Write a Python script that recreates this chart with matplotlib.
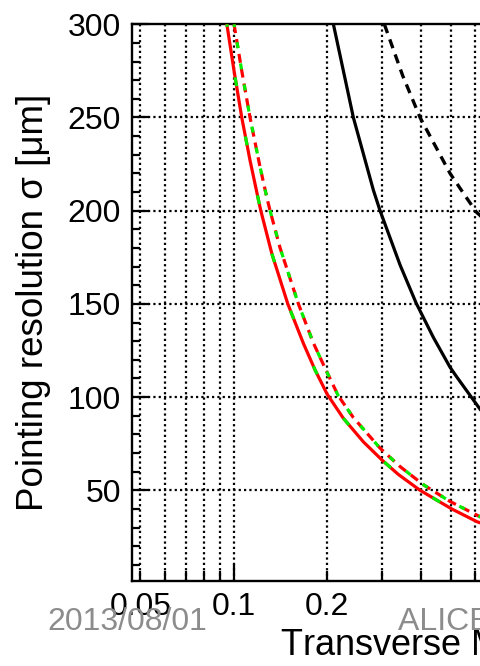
import math
import matplotlib
matplotlib.use("Agg")
import matplotlib.pyplot as plt
from matplotlib.ticker import FixedLocator, FixedFormatter

plt.rcParams['font.family'] = ['Liberation Sans', 'DejaVu Sans']

# Pointing resolution (um) vs transverse momentum (GeV/c)
pt_red = [0.0950, 0.1002, 0.1061, 0.1128, 0.1200, 0.1222, 0.1326, 0.1493,
          0.1676, 0.1827, 0.2000, 0.2255, 0.2615, 0.3000, 0.3390, 0.3982,
          0.5038, 0.6065, 0.70]
sig_red = [300, 275, 250, 227, 206, 200, 177, 150,
           128.8, 114.6, 101.5, 88.6, 76.0, 66.3, 58.5, 50.0,
           40.0, 33.2, 29.5]

pt_red_d = [0.1002, 0.1061, 0.1128, 0.1215, 0.1277, 0.1309, 0.1410, 0.1615,
            0.1805, 0.1994, 0.2173, 0.2428, 0.2960, 0.3435, 0.4082, 0.4975,
            0.6215, 0.70]
sig_red_d = [300, 275, 250, 223.5, 207.3, 200, 180, 150,
             129, 113.5, 100.6, 89.0, 72.6, 62.7, 53.0, 44.0,
             35.8, 32.3]

pt_blk = [0.2094, 0.2428, 0.2817, 0.2960, 0.3435, 0.3867, 0.4396, 0.4975,
          0.5229, 0.6215, 0.70]
sig_blk = [300, 250, 211, 200, 170.8, 150.5, 132, 116, 110.8, 93.5, 83.4]

pt_blk_d = [0.3056, 0.3500, 0.3982, 0.4975, 0.5564, 0.6065, 0.6215, 0.70]
sig_blk_d = [300, 272.5, 250, 220, 208, 199, 197.5, 186]

x_min, x_max = 0.047, 20.0
y_min, y_max = 1.5, 300.0

x_major = [0.1, 1, 10]
x_minor = [0.05, 0.06, 0.07, 0.08, 0.09, 0.2, 0.3, 0.4, 0.5, 0.6, 0.7, 0.8, 0.9,
           2, 3, 4, 5, 6, 7, 8, 9, 20]
x_labels = {0.05: "0.05", 0.1: "0.1", 0.2: "0.2", 1: "1", 2: "2", 10: "10", 20: "20"}
y_major = [50, 100, 150, 200, 250, 300]
y_minor = [v for v in range(10, 300, 10) if v % 50]

W, H = 480, 666
fig = plt.figure(figsize=(W / 100, H / 100), dpi=100)
ax_left, ax_bottom, ax_top = 132, 85.3, 641.7
ax_w = 310.4 * math.log10(x_max / x_min)
ax = fig.add_axes([ax_left / W, ax_bottom / H, ax_w / W, (ax_top - ax_bottom) / H])
ax.set_xscale('log')
ax.set_xlim(x_min, x_max)
ax.set_ylim(y_min, y_max)

# dotted grid
grid_kw = dict(color='black', lw=1.6, linestyle=(0, (1.0, 1.4)), zorder=1)
for xv in x_major + x_minor:
    ax.axvline(xv, **grid_kw)
for yv in [50, 100, 150, 200, 250]:
    ax.axhline(yv, **grid_kw)

# curves
ax.plot(pt_blk, sig_blk, color='black', lw=2.3, zorder=3)
ax.plot(pt_blk_d, sig_blk_d, color='black', lw=2.4, linestyle=(0, (2.8, 2.0)), zorder=3)
ax.plot(pt_red, sig_red, color='#ff0000', lw=2.3, zorder=4)
ax.plot(pt_red, sig_red, color='#00ee00', lw=2.3, linestyle=(2, (2.8, 16.0)), zorder=5)
ax.plot(pt_red_d, sig_red_d, color='#ff0000', lw=2.3, linestyle=(0, (2.8, 1.9)), zorder=4)
ax.plot(pt_red_d, sig_red_d, color='#00ee00', lw=2.3, linestyle=(1, (1.9, 4.8)), zorder=5)

# frame and ticks
for s in ax.spines.values():
    s.set_linewidth(1.7)
ax.xaxis.set_major_locator(FixedLocator(x_major))
ax.xaxis.set_minor_locator(FixedLocator(x_minor))
ax.xaxis.set_major_formatter(FixedFormatter([x_labels.get(v, "") for v in x_major]))
ax.xaxis.set_minor_formatter(FixedFormatter([x_labels.get(v, "") for v in x_minor]))
ax.yaxis.set_major_locator(FixedLocator(y_major))
ax.yaxis.set_minor_locator(FixedLocator(y_minor))
ax.tick_params(axis='both', which='both', direction='in', width=1.6, labelsize=23,
               top=False, right=False)
ax.tick_params(axis='x', which='major', length=12, pad=8)
ax.tick_params(axis='x', which='minor', length=7, pad=8)
ax.tick_params(axis='y', which='major', length=12, pad=8)
ax.tick_params(axis='y', which='minor', length=6)

fig.text(34 / W, 1 - 302 / H, "Pointing resolution σ [μm]", rotation=90,
         ha='center', va='center', fontsize=26.5)
fig.text(280 / W, 11 / H, "Transverse Momentum $p_{\\mathrm{T}}$ (GeV/$c$)",
         ha='left', va='baseline', fontsize=26)
fig.text(47 / W, 44 / H, "2013/08/01", ha='left', va='center', fontsize=23,
         color='#8c8c8c')
fig.text(398 / W, 44 / H, "ALICE ITS Upgrade", ha='left', va='center', fontsize=23,
         color='#8c8c8c')

fig.savefig("out.png", dpi=100)
